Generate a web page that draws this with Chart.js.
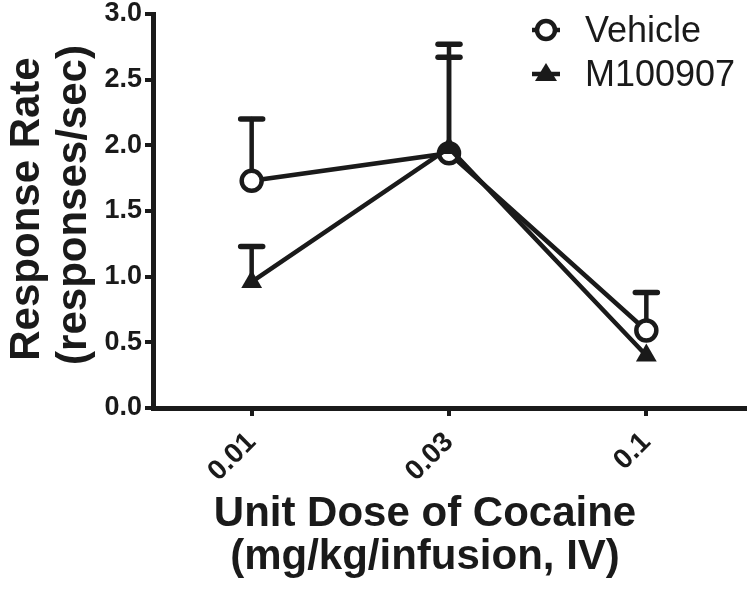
<!DOCTYPE html>
<html>
<head>
<meta charset="utf-8">
<script src="https://cdn.jsdelivr.net/npm/chart.js@4"></script>
<style>
  html,body{margin:0;padding:0;background:#fff;}
  #wrap{width:750px;height:591px;}
</style>
</head>
<body>
<div id="wrap"><canvas id="c"></canvas></div>
<script>
// data
const doses = ['0.01','0.03','0.1'];
const vehicleMean = [1.73, 1.94, 0.59];
const vehicleTop  = [2.20, 2.67, 0.88];   // mean + SEM
const m100Mean    = [0.96, 1.98, 0.40];
const m100Top     = [1.23, 2.77, null];
const yTicks = [0, 0.5, 1.0, 1.5, 2.0, 2.5, 3.0];

const INK = '#1a1a1a';
const FONT = '"Liberation Sans", Arial, sans-serif';

// upward-only error bars
const errBars = {
  id:'errBars',
  beforeDatasetsDraw(chart){
    const {ctx, scales:{x,y}} = chart;
    const sets = [[vehicleMean, vehicleTop],[m100Mean, m100Top]];
    ctx.save();
    ctx.strokeStyle = INK;
    ctx.lineCap = 'round';
    sets.forEach(([m,t])=>{
      m.forEach((v,i)=>{
        if(t[i]==null) return;
        const px = x.getPixelForValue(i);
        const y0 = y.getPixelForValue(v), y1 = y.getPixelForValue(t[i]);
        ctx.lineWidth = 4.5;
        ctx.beginPath(); ctx.moveTo(px,y0); ctx.lineTo(px,y1); ctx.stroke();
        ctx.lineWidth = 5.5;
        ctx.beginPath(); ctx.moveTo(px-11,y1); ctx.lineTo(px+11,y1); ctx.stroke();
      });
    });
    ctx.restore();
  }
};

// axis titles + legend drawn by hand for placement
const extras = {
  id:'extras',
  afterDraw(chart){
    const {ctx} = chart;
    ctx.save();
    ctx.fillStyle = INK;
    ctx.textAlign = 'center';
    ctx.textBaseline = 'alphabetic';
    ctx.font = 'bold 42px ' + FONT;
    ctx.fillText('Unit Dose of Cocaine', 425, 526);
    ctx.fillText('(mg/kg/infusion, IV)', 425, 569);
    ctx.save();
    ctx.translate(39, 209); ctx.rotate(-Math.PI/2);
    ctx.fillText('Response Rate', 0, 0);
    ctx.restore();
    ctx.save();
    ctx.translate(86, 205); ctx.rotate(-Math.PI/2);
    ctx.fillText('(responses/sec)', 0, 0);
    ctx.restore();

    // legend
    ctx.textAlign = 'left';
    ctx.font = '36px ' + FONT;
    ctx.fillText('Vehicle', 585, 42);
    ctx.fillText('M100907', 585, 86);
    ctx.lineWidth = 4.5; ctx.strokeStyle = INK;
    ctx.beginPath(); ctx.moveTo(532,30); ctx.lineTo(560,30); ctx.stroke();
    ctx.beginPath(); ctx.arc(546,30,9,0,Math.PI*2); ctx.fillStyle='#fff'; ctx.fill(); ctx.stroke();
    ctx.fillStyle = INK;
    ctx.beginPath(); ctx.moveTo(532,74); ctx.lineTo(560,74); ctx.stroke();
    ctx.beginPath(); ctx.moveTo(546,63); ctx.lineTo(557,81); ctx.lineTo(535,81); ctx.closePath(); ctx.fill();
    ctx.restore();
  }
};

new Chart(document.getElementById('c'), {
  type:'line',
  data:{
    labels: doses,
    datasets:[
      {
        label:'Vehicle',
        data: vehicleMean,
        borderColor: INK,
        borderWidth: 4.5,
        pointStyle:'circle',
        pointRadius: 10,
        pointBorderWidth: 4.5,
        pointBackgroundColor:'#fff',
        pointBorderColor: INK,
        tension:0,
        order:2
      },
      {
        label:'M100907',
        data: m100Mean,
        borderColor: INK,
        borderWidth: 4.5,
        pointStyle:'triangle',
        pointRadius: 12,
        pointBorderWidth: 0,
        pointBackgroundColor: INK,
        pointBorderColor: INK,
        tension:0,
        order:1
      }
    ]
  },
  options:{
    responsive:true,
    maintainAspectRatio:false,
    animation:false,
    events:[],
    layout:{autoPadding:false, padding:{top:14, right:5, left:0, bottom:0}},
    clip:false,
    plugins:{legend:{display:false}, tooltip:{enabled:false}},
    scales:{
      x:{
        type:'category',
        offset:true,
        border:{display:true, color:INK, width:5},
        grid:{drawOnChartArea:false, drawTicks:true, tickLength:8, lineWidth:4, color:INK, offset:false},
        ticks:{
          color:INK,
          font:{family:FONT, weight:'bold', size:28},
          minRotation:45, maxRotation:45, padding:10
        },
        afterFit(s){ s.height = 183; s.paddingLeft = 0; s.paddingRight = 0; }
      },
      y:{
        min:0, max:3,
        afterBuildTicks(s){ s.ticks = yTicks.map(v=>({value:v})); },
        border:{display:true, color:INK, width:5},
        grid:{drawOnChartArea:false, drawTicks:true, tickLength:8, lineWidth:4, color:INK},
        ticks:{
          color:INK,
          font:{family:FONT, weight:'bold', size:27},
          padding:3,
          callback:v=>v.toFixed(1)
        },
        afterFit(s){ s.width = 153; s.paddingTop = 0; s.paddingBottom = 0; }
      }
    }
  },
  plugins:[errBars, extras]
});
</script>
</body>
</html>
